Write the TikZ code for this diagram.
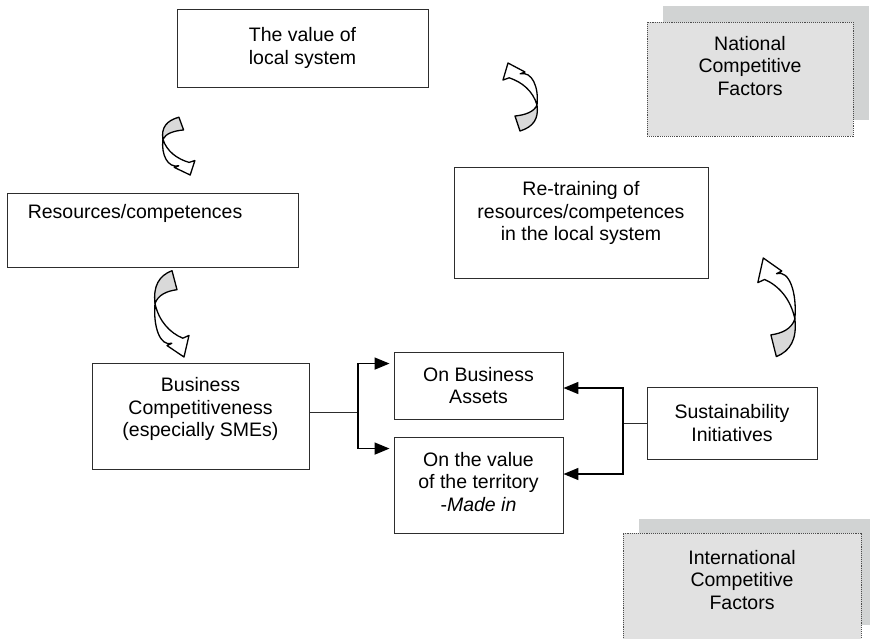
\documentclass[tikz,border=0pt]{standalone}
\usepackage{fontspec}
\setmainfont{Liberation Sans}
\usepackage{tikz}
\usetikzlibrary{arrows.meta, positioning, calc, shadows}

\definecolor{boxline}{RGB}{45,45,45}
\definecolor{factfill}{RGB}{225,225,225}
\definecolor{factshade}{RGB}{209,211,211}
\definecolor{curlfill}{RGB}{217,217,217}

\begin{document}
\begin{tikzpicture}[
  x=1pt, y=-1pt,
  font=\fontsize{19.5}{22.5}\selectfont,
  box/.style={draw=boxline, line width=0.9pt, fill=white, align=center, inner sep=0pt},
  factor/.style={
    draw=boxline!85, densely dotted, line width=0.9pt, fill=factfill, inner sep=0pt,
    drop shadow={shadow xshift=16pt, shadow yshift=#1, fill=factshade, opacity=1}
  },
  txt/.style={align=center, inner sep=0pt},
  link/.style={draw=boxline, line width=0.8pt},
  branch/.style={draw=black, line width=1.6pt, -{Triangle[length=15pt, width=12pt]}},
  curlarrow/.pic={
    \filldraw[fill=curlfill, line width=1.3pt, line join=round]
      (10,53) .. controls (20,52) and (29,49) .. (32,42)
      .. controls (34,56) and (28,64) .. (15,68) -- cycle;
    \filldraw[fill=white, line width=1.3pt, line join=round]
      (3,0) -- (20,9) -- (15.2,10.8) .. controls (27,8) and (34,24) .. (32,42)
      .. controls (28,28) and (17,19) .. (4.2,14.8) -- (-2,17) -- cycle;
  }
]
\useasboundingbox (0,0) rectangle (870,638);

\node[box, minimum width=251pt, minimum height=78pt] (value) at (302.5,48) {The value of\\local system};

\node[factor=16pt, minimum width=206pt, minimum height=114pt] (national) at (750,79) {};
\node[txt] (nationalTxt) at ([yshift=13pt]national.center) {National\\Competitive\\Factors};

\node[box, minimum width=291pt, minimum height=74pt] (resources) at (152.5,230) {};
\node[txt, anchor=west] (resourcesTxt) at ([xshift=21pt, yshift=17pt]resources.west) {Resources/competences};

\node[box, minimum width=254pt, minimum height=111pt] (retrain) at (581,222.5) {};
\node[txt] (retrainTxt) at ([yshift=9.5pt]retrain.center) {Re-training of\\resources/competences\\in the local system};

\node[box, minimum width=217pt, minimum height=106pt] (bus) at (200.5,416) {};
\node[txt] (busTxt) at ([yshift=7pt]bus.center) {Business\\Competitiveness\\(especially SMEs)};

\node[box, minimum width=169pt, minimum height=67pt] (assets) at (478.5,385.5) {On Business\\Assets};

\node[box, minimum width=169pt, minimum height=96pt] (territory) at (478.5,485) {};
\node[txt] (territoryTxt) at ([yshift=3pt]territory.center) {On the value\\of the territory\\-\textit{Made in}};

\node[box, minimum width=170pt, minimum height=72pt] (sust) at (732,423) {Sustainability\\Initiatives};

\node[factor=14pt, minimum width=238pt, minimum height=106pt] (international) at (742,586) {};
\node[txt] (internationalTxt) at ([yshift=6pt]international.center) {International\\Competitive\\Factors};

\coordinate (splitL) at (358,412);
\coordinate (splitR) at (623,423);

\draw[link] (bus.east |- splitL) -- (splitL);
\draw[branch, shorten >=4pt] (splitL) |- ([yshift=-12pt]assets.north west);
\draw[branch, shorten >=4pt] (splitL) |- ([yshift=-12pt]territory.north west);

\draw[link] (sust.west) -- (splitR);
\draw[branch] (splitR) |- ([yshift=-2.5pt]assets.east);
\draw[branch] (splitR) |- ([yshift=11pt]territory.east);

\pic at (505,63) {curlarrow};
\pic[xscale=1.09, yscale=1.45] at (760,258) {curlarrow};
\pic[xscale=-0.94, yscale=-0.85] at (193,175) {curlarrow};
\pic[xscale=-1, yscale=-1.27] at (187,357) {curlarrow};
\end{tikzpicture}
\end{document}
